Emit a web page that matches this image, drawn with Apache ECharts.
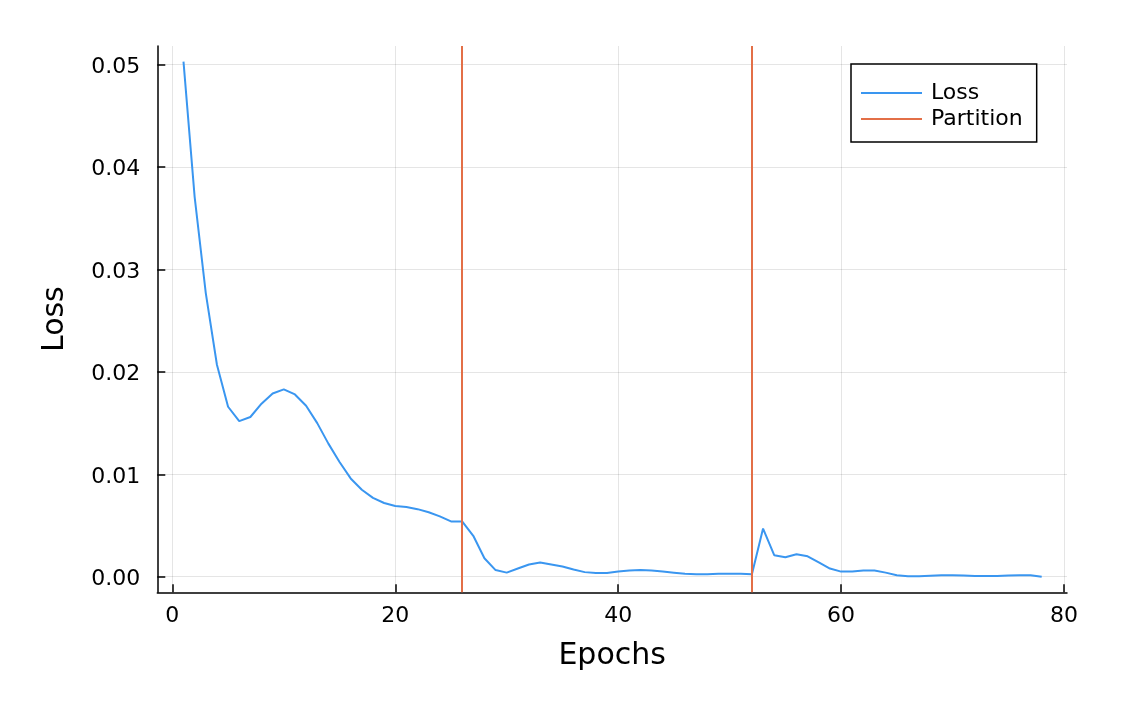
<!DOCTYPE html>
<html>
<head>
<meta charset="utf-8">
<script src="https://cdn.jsdelivr.net/npm/echarts@6/dist/echarts.min.js"></script>
<style>
html,body{margin:0;padding:0;background:#fff;}
#chart{width:1126px;height:716px;}
</style>
</head>
<body>
<div id="chart"></div>
<script>
const epochs = [1,2,3,4,5,6,7,8,9,10,11,12,13,14,15,16,17,18,19,20,
  21,22,23,24,25,26,27,28,29,30,31,32,33,34,35,36,37,38,39,40,
  41,42,43,44,45,46,47,48,49,50,51,52,53,54,55,56,57,58,59,60,
  61,62,63,64,65,66,67,68,69,70,71,72,73,74,75,76,77,78];
const loss = [0.0503,0.0371,0.0277,0.0207,0.0166,0.0152,0.0156,0.0169,0.0179,0.0183,
  0.0178,0.0167,0.0150,0.0130,0.0112,0.0096,0.0085,0.0077,0.0072,0.0069,
  0.0068,0.0066,0.0063,0.0059,0.0054,0.0054,0.0040,0.0018,0.00065,0.0004,
  0.0008,0.0012,0.0014,0.0012,0.0010,0.0007,0.00045,0.00036,0.00036,0.0005,
  0.0006,0.00065,0.0006,0.0005,0.0004,0.0003,0.00025,0.00025,0.00028,0.0003,
  0.0003,0.00025,0.0047,0.0021,0.0019,0.0022,0.0020,0.0014,0.0008,0.0005,
  0.0005,0.0006,0.0006,0.0004,0.00015,0.00005,0.00005,0.0001,0.00015,0.00015,
  0.00012,0.00008,0.00008,0.00008,0.00012,0.00015,0.00015,0.0];
const partitions = [26, 52];
const xTicks = [0, 20, 40, 60, 80];
const yTicks = [0, 0.01, 0.02, 0.03, 0.04, 0.05];

const FONT = 'DejaVu Sans';
const chart = echarts.init(document.getElementById('chart'), null, {renderer: 'canvas'});
const axisCommon = {
  axisLine: {show: true, onZero: false, lineStyle: {color: '#000', width: 1.5}},
  axisTick: {show: true, inside: true, length: 8, lineStyle: {color: '#000', width: 1.5}},
  splitLine: {show: true, lineStyle: {color: 'rgba(0,0,0,0.1)', width: 1}},
  nameTextStyle: {fontFamily: FONT, fontSize: 30, color: '#000'}
};
chart.setOption({
  animation: false,
  backgroundColor: '#fff',
  grid: {left: 157.3, right: 59, top: 46, bottom: 123.7, containLabel: false},
  xAxis: Object.assign({}, axisCommon, {
    type: 'value', min: -1.35, max: 80.27,
    name: 'Epochs', nameLocation: 'middle', nameGap: 49,
    axisTick: Object.assign({}, axisCommon.axisTick, {customValues: xTicks}),
    axisLabel: {customValues: xTicks, fontFamily: FONT, fontSize: 22, color: '#000', margin: 13},
  }),
  yAxis: Object.assign({}, axisCommon, {
    type: 'value', min: -0.00152, max: 0.05183,
    name: 'Loss', nameLocation: 'middle', nameGap: 87,
    axisTick: Object.assign({}, axisCommon.axisTick, {customValues: yTicks}),
    axisLabel: {customValues: yTicks, fontFamily: FONT, fontSize: 22, color: '#000', margin: 17,
      formatter: v => '{t|' + v.toFixed(2) + '}',
      rich: {t: {fontFamily: FONT, fontSize: 22, color: '#000', padding: [5, 0, 0, 0]}}},
  }),
  legend: {
    data: ['Loss', 'Partition'],
    orient: 'vertical', left: 851, top: 64,
    backgroundColor: '#fff', borderColor: '#000', borderWidth: 1.5, borderRadius: 0,
    padding: [18, 14, 12, 10], itemGap: 4, itemWidth: 61, itemHeight: 2, icon: 'rect',
    textStyle: {fontFamily: FONT, fontSize: 22, color: '#000', padding: [0, 0, 0, 4]}
  },
  series: [
    {
      name: 'Loss', type: 'line', symbol: 'none', showSymbol: false,
      data: epochs.map((e, i) => [e, loss[i]]),
      color: '#3A96F0',
      lineStyle: {color: '#3A96F0', width: 2}
    },
    {
      name: 'Partition', type: 'line', symbol: 'none', data: [],
      color: '#E36F47',
      lineStyle: {color: '#E36F47', width: 2},
      markLine: {
        silent: true, symbol: 'none', label: {show: false},
        lineStyle: {color: '#E36F47', width: 2, type: 'solid'},
        data: partitions.map(p => ({xAxis: p}))
      }
    }
  ]
});
</script>
</body>
</html>
